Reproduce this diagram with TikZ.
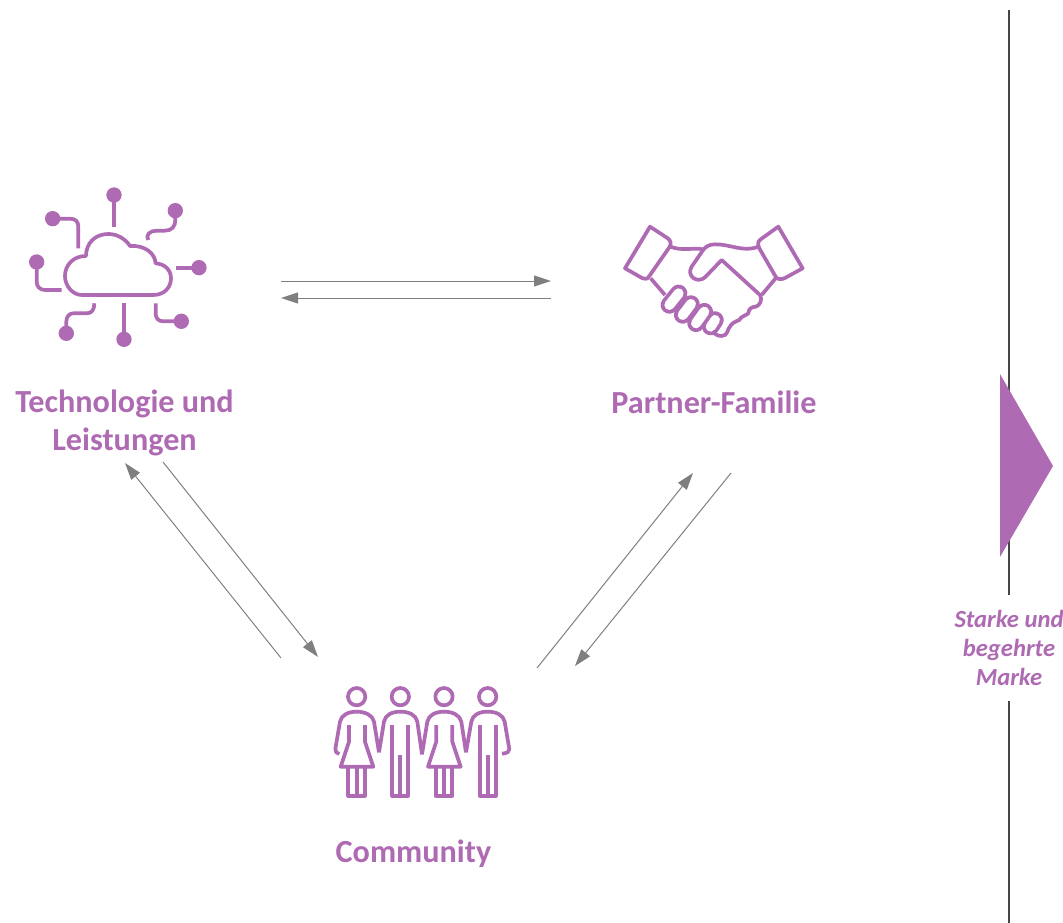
\documentclass[tikz,border=0pt]{standalone}
\usepackage{fontspec}
\setmainfont{Carlito}
\usepackage{xcolor}
\usepackage{tikz}
\usetikzlibrary{positioning,%
  arrows.meta,%
  calc%
}
\definecolor{brandpurple}{RGB}{174,106,178}
\definecolor{linkgray}{RGB}{127,127,127}
\definecolor{axisgray}{RGB}{70,70,70}
\tikzset{
  icon/.style={draw=brandpurple, line width=3.7pt, line join=round},
  lead/.style={icon, fill=none},
  pin/.style={fill=brandpurple, draw=none},
  finger/.style={draw=brandpurple, line width=3.7pt, double=white, double distance=10pt, line cap=round},
  link/.style={draw=linkgray, line width=1pt, -{Triangle[length=17pt,width=11pt]}},
  caption/.style={text=brandpurple, font=\fontsize{32.2}{38}\selectfont\bfseries, align=center},
  brandcaption/.style={text=brandpurple, fill=white, inner sep=1pt, font=\fontsize{24.6}{29}\selectfont\bfseries\itshape, align=center}
}
\begin{document}
\begin{tikzpicture}[x=1pt,y=-1pt]
            \useasboundingbox (0,0) rectangle (1063,923);

            \draw [axisgray, line width=2pt] (1009,10) -- (1009,923);
            \fill [brandpurple] (1000,374) -- (1053,466) -- (1000,557) -- cycle;
            \node [brandcaption, minimum width=108pt, minimum height=106pt] (brand) at (1009,648) {Starke und\\begehrte\\Marke};

            \node [caption] (tech) at (124.5,423) {Technologie und\\Leistungen};
            \node [caption] (partner) at (714,402) {Partner-Familie};
            \node [caption] (community) at (413.5,854) {Community};

            % Wolke
            \begin{scope}[shift={(10,170)}, x=0.3333pt, y=-0.3333pt]
                \draw [icon] (215,375) -- (430,375) .. controls (465,375) and (483,350) .. (483,325)
                    .. controls (483,300) and (465,282) .. (437,280)
                    .. controls (435,250) and (405,225) .. (360,228)
                    .. controls (345,205) and (320,192) .. (295,192)
                    .. controls (255,192) and (228,220) .. (228,258)
                    .. controls (190,258) and (165,285) .. (165,318)
                    .. controls (165,350) and (190,375) .. (215,375) -- cycle;
                \draw [lead] (312,170) -- (312,75);
                \fill [pin] (312,75) circle (23);
                \draw [lead] (415,210) .. controls (405,195) and (420,182) .. (440,182) -- (465,182) .. controls (485,182) and (496,170) .. (496,150) -- (496,122);
                \fill [pin] (496,122) circle (23);
                \draw [lead] (128,146) -- (180,146) .. controls (197,146) and (205,155) .. (205,170) -- (205,235);
                \fill [pin] (128,146) circle (23);
                \draw [lead] (80,276) -- (80,335) .. controls (80,350) and (90,360) .. (105,360) -- (155,360);
                \fill [pin] (80,276) circle (23);
                \draw [lead] (567,293) -- (497,293);
                \fill [pin] (567,293) circle (23);
                \draw [lead] (514,454) -- (460,454) .. controls (445,454) and (437,445) .. (437,430) -- (437,400);
                \fill [pin] (514,454) circle (23);
                \draw [lead] (342,508) -- (342,400);
                \fill [pin] (342,508) circle (23);
                \draw [lead] (169,490) -- (169,455) .. controls (169,440) and (178,430) .. (190,430) -- (230,430) .. controls (245,430) and (253,420) .. (253,400);
                \fill [pin] (169,490) circle (23);
            \end{scope}

            % Haendedruck
            \begin{scope}[shift={(610,210)}, x=0.3333pt, y=-0.3333pt]
                \draw [finger] (315,330) -- (302,350);
                \draw [finger] (283,305) -- (258,340);
                \draw [finger] (243,282) -- (218,315);
                \draw [finger] (206,250) -- (178,285);
                \draw [icon] (120,50) -- (172,84) .. controls (184,92) and (184,102) .. (178,112) -- (118,198) .. controls (112,208) and (106,208) .. (98,205) -- (45,175) -- cycle;
                \draw [icon] (505,50) -- (578,175) -- (525,204) .. controls (512,210) and (502,208) .. (497,200) -- (448,115) .. controls (442,102) and (444,94) .. (452,88) -- cycle;
                \draw [lead] (178,108) .. controls (210,125) and (250,112) .. (280,118);
                \draw [lead] (122,205) -- (165,255);
                \draw [lead] (497,205) -- (455,255);
                \draw [lead] (445,110) .. controls (400,128) and (360,102) .. (315,103)
                    .. controls (295,103) and (285,112) .. (278,122) -- (245,170)
                    .. controls (228,198) and (262,222) .. (285,202) -- (335,150) -- (450,255)
                    .. controls (458,270) and (450,285) .. (438,290)
                    .. controls (428,290) and (415,295) .. (415,310)
                    .. controls (405,318) and (392,320) .. (388,330)
                    .. controls (375,335) and (365,340) .. (360,350)
                    .. controls (352,355) and (355,378) .. (335,378)
                    .. controls (322,378) and (315,372) .. (307,365);
            \end{scope}

            % Personen
            \begin{scope}[shift={(320,675)}, x=0.3333pt, y=-0.3333pt]
                \foreach \px in {110,241,372,503} {
                    \draw [icon] (\px,65) circle (26);
                }
                \foreach \px in {0,262} {
                    \begin{scope}[xshift=\px*0.3333pt]
                        \draw [lead] (87,150) -- (87,200) -- (62,275) -- (160,275) -- (135,200) -- (135,150);
                        \draw [lead] (85,275) -- (85,362) -- (135,362) -- (135,275);
                        \draw [lead] (110,275) -- (110,362);
                    \end{scope}
                }
                \foreach \px in {0,262} {
                    \begin{scope}[xshift=\px*0.3333pt]
                        \draw [lead] (217,150) -- (217,362) -- (265,362) -- (265,150);
                        \draw [lead] (241,240) -- (241,362);
                    \end{scope}
                }
                \draw [lead] (58,237) .. controls (50,235) and (45,230) .. (46,222) -- (60,140)
                    .. controls (64,120) and (85,110) .. (110,110)
                    .. controls (135,110) and (158,120) .. (162,140) -- (177,232);
                \draw [lead] (177,232) -- (192,140) .. controls (196,120) and (215,110) .. (241,110)
                    .. controls (267,110) and (288,120) .. (292,140) -- (306,238);
                \draw [lead] (306,238) -- (322,140) .. controls (326,120) and (347,110) .. (372,110)
                    .. controls (397,110) and (420,120) .. (424,140) -- (438,232);
                \draw [lead] (438,232) -- (454,140) .. controls (458,120) and (477,110) .. (503,110)
                    .. controls (529,110) and (550,120) .. (554,140) -- (568,222)
                    .. controls (569,230) and (562,235) .. (546,236);
            \end{scope}

            \coordinate (techtop) at (281,281);
            \coordinate (partnertop) at (551,281);
            \coordinate (partnerback) at (551,298);
            \coordinate (techback) at (281,298);
            \coordinate (techdown) at (163,462);
            \coordinate (communityleft) at (318,657);
            \coordinate (communityup) at (281,658);
            \coordinate (techleft) at (125,463);
            \coordinate (communityright) at (537,668);
            \coordinate (partnerin) at (693,473);
            \coordinate (partnerdown) at (731,473);
            \coordinate (communityin) at (575,666);

            \draw [link] (techtop) -- (partnertop);
            \draw [link] (partnerback) -- (techback);
            \draw [link] (techdown) -- (communityleft);
            \draw [link] (communityup) -- (techleft);
            \draw [link] (communityright) -- (partnerin);
            \draw [link] (partnerdown) -- (communityin);
        \end{tikzpicture}
\end{document}
